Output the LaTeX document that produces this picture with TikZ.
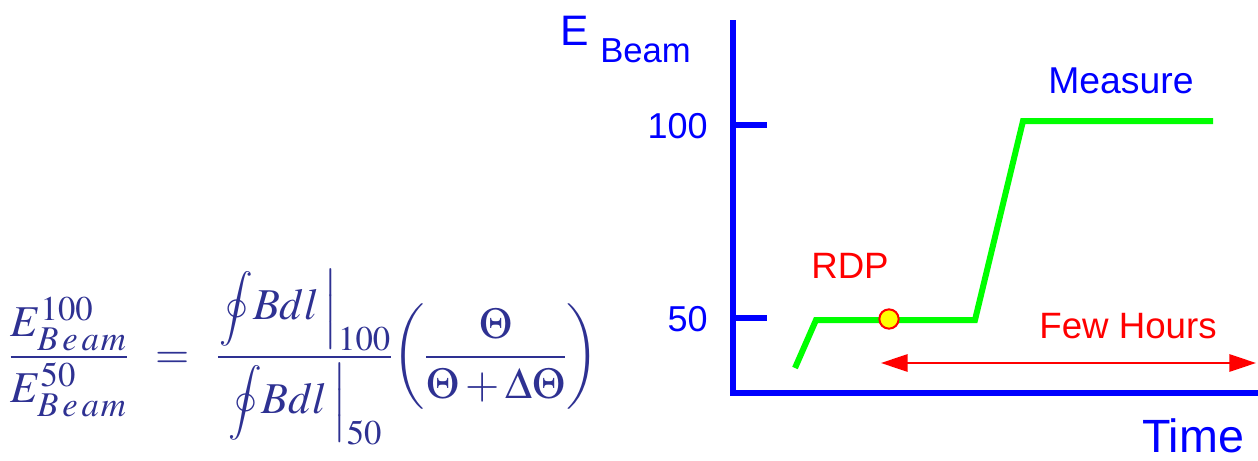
\documentclass[tikz,border=0pt]{standalone}
\usepackage{mathptmx}
\usepackage{graphicx}
\usepackage[no-math]{fontspec}
\newfontfamily\arial{Liberation Sans}
\usetikzlibrary{arrows.meta}
\DeclareMathSizes{33}{33}{26}{20}
\definecolor{eqblue}{RGB}{46,49,146}
\definecolor{ablue}{RGB}{0,0,255}
\definecolor{lgreen}{RGB}{0,255,0}
\definecolor{ared}{RGB}{255,0,0}
\definecolor{ayellow}{RGB}{255,255,0}
\newcommand{\loopint}{\mathop{\vcenter{\hbox{\scalebox{0.85}{$\displaystyle\oint$}}}}\nolimits}
\newcommand{\beamsub}{B\mkern2mu e\mkern2mu a\mkern1mu m}
\tikzset{
  axisline/.style={draw=ablue, line width=5.2pt},
  ticklbl/.style={text=ablue, font=\arial\fontsize{27}{30}\selectfont, inner sep=0pt},
  redlbl/.style={text=ared, font=\arial\fontsize{27.5}{30}\selectfont, inner sep=0pt},
  bluelbl/.style={text=ablue, font=\arial\fontsize{28}{30}\selectfont, inner sep=0pt},
  energy/.style={draw=lgreen, line width=4.5pt},
}
\begin{document}
\begin{tikzpicture}[x=0.75pt,y=-0.75pt]
\useasboundingbox (0,0) rectangle (1258,461);
% axes
\coordinate (ytop) at (733,20);
\coordinate (origin) at (733,393);
\coordinate (xend) at (1258,393);
\draw[axisline, line join=miter] (ytop) -- (origin) -- (xend);
\coordinate (t100a) at (733,125); \coordinate (t100b) at (767,125);
\coordinate (t50a) at (733,318); \coordinate (t50b) at (767,318);
\draw[axisline, line width=4.6pt] (t100a) -- (t100b);
\draw[axisline, line width=4.6pt] (t50a) -- (t50b);
% axis labels
\node[text=ablue, font=\arial\fontsize{32}{34}\selectfont, inner sep=0pt, anchor=base west] (elbl) at (560,45) {E};
\node[text=ablue, font=\arial\fontsize{26}{28}\selectfont, inner sep=0pt, anchor=base west] (beamlbl) at (600,62) {Beam};
\node[ticklbl, anchor=base east] (l100) at (708,138) {100};
\node[ticklbl, anchor=base east] (l50) at (708,331) {50};
\node[text=ablue, font=\arial\fontsize{35}{38}\selectfont, inner sep=0pt, anchor=base] (timelbl) at (1193,452) {Time};
% energy curve
\coordinate (g1) at (795,368);
\coordinate (g2) at (816,320);
\coordinate (g3) at (975,320);
\coordinate (g4) at (1023,121);
\coordinate (g5) at (1213,121);
\draw[energy] (g1) -- (g2) -- (g3) -- (g4) -- (g5);
\node[bluelbl, anchor=base] (meas) at (1121,93) {Measure};
\node[redlbl, anchor=base] (rdp) at (850,278) {RDP};
\node[circle, draw=ared, fill=ayellow, line width=1.5pt, minimum size=14.5pt, inner sep=0pt] (pt) at (889,319) {};
% few hours arrow
\coordinate (fa) at (881,363);
\coordinate (fb) at (1256,363);
\draw[draw=ared, line width=1.6pt, {Triangle[length=20pt,width=13pt]}-{Triangle[length=20pt,width=13pt]}] (fa) -- (fb);
\node[redlbl, anchor=base] (few) at (1128,338) {Few Hours};
% formula
\node[text=eqblue, inner sep=0pt, anchor=center] (eq) at (304,357) {\fontsize{33}{38}\selectfont$\displaystyle
\frac{E^{100}_{\beamsub}}{E^{50}_{\beamsub}} \mkern7mu=\mkern7mu \frac{\displaystyle\left.\loopint\! Bdl\,\right|_{100}}{\displaystyle\left.\loopint\! Bdl\,\right|_{50}}\!\left(\frac{\Theta}{\Theta+\Delta\Theta}\right)$};
\end{tikzpicture}
\end{document}
